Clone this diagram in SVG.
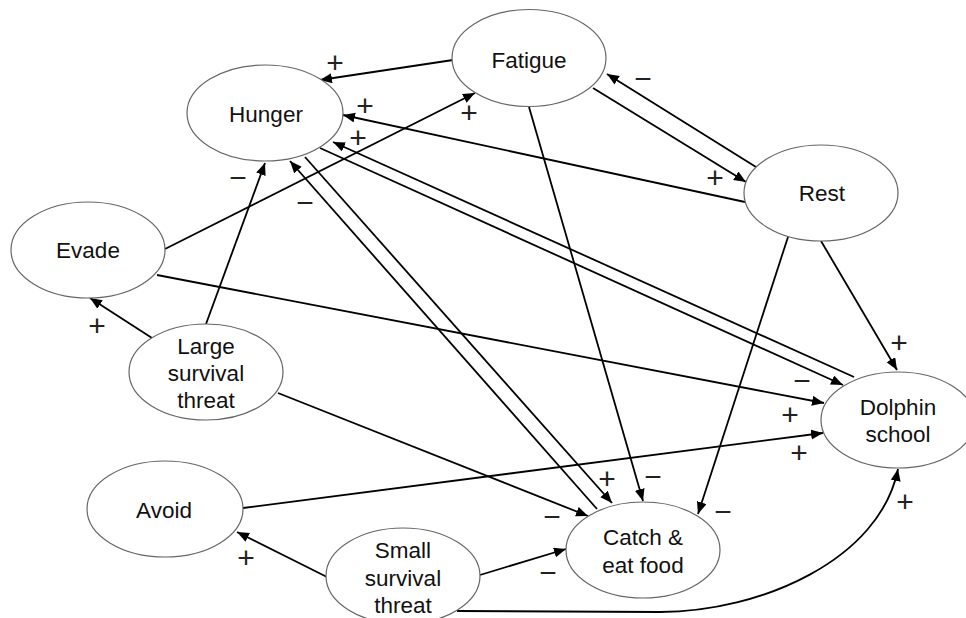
<svg xmlns="http://www.w3.org/2000/svg" width="966" height="618" viewBox="0 0 966 618">
  <style>
    .node ellipse { fill: #ffffff; stroke: #666666; stroke-width: 1.2; }
    .node text { font-family: "Liberation Sans", Arial, sans-serif; font-size: 22.5px; fill: #111111; text-anchor: middle; }
    #connectors path { fill: none; stroke: #000000; stroke-width: 1.8; }
    #connectors .arrow { marker-end: url(#head); }
    .sign { font-family: "Liberation Sans", Arial, sans-serif; font-size: 30px; fill: #222222; text-anchor: middle; }
  </style>
  <defs>
    <marker id="head" markerUnits="userSpaceOnUse" markerWidth="13" markerHeight="11" refX="12" refY="5" orient="auto">
      <path d="M0,0 L12,5 L0,10 z" fill="#000000"/>
    </marker>
  </defs>
  <rect width="966" height="618" fill="#ffffff"/>

  <g id="connectors">
    <path class="arrow" d="M453,60 L320,80"/>
    <path class="arrow" d="M165,249 L475,93"/>
    <path class="arrow" d="M745,202 L343,115"/>
    <path class="arrow" d="M854,377 L333,142"/>
    <path class="arrow" d="M320,148 L843,385"/>
    <path class="arrow" d="M593,88 L746,182"/>
    <path class="arrow" d="M756,167 L607,74"/>
    <path class="arrow" d="M529,107 L643,501"/>
    <path class="arrow" d="M788,237 L698,514"/>
    <path class="arrow" d="M821,241 L897,370"/>
    <path class="arrow" d="M157,275 L824,403"/>
    <path class="arrow" d="M243,508 L823,433"/>
    <path class="arrow" d="M152,338 L90,298"/>
    <path class="arrow" d="M206,324 L265,163"/>
    <path class="arrow" d="M278,393 L588,516"/>
    <path class="arrow" d="M597,509 L290,161"/>
    <path class="arrow" d="M305,157 L612,503"/>
    <path class="arrow" d="M327,577 L237,532"/>
    <path class="arrow" d="M480,575 L566,549"/>
    <path class="arrow" d="M457,611 L660,612 C760,612 880,560 898,469"/>
  </g>

  <g id="labels" opacity="0.999">
    <text class="sign" x="335" y="73">+</text>
    <text class="sign" x="469" y="123">+</text>
    <text class="sign" x="365" y="116">+</text>
    <text class="sign" x="358" y="148">+</text>
    <text class="sign" x="802" y="391">−</text>
    <text class="sign" x="715" y="188">+</text>
    <text class="sign" x="643" y="89">−</text>
    <text class="sign" x="653" y="487">−</text>
    <text class="sign" x="723" y="522">−</text>
    <text class="sign" x="899" y="353">+</text>
    <text class="sign" x="790" y="425">+</text>
    <text class="sign" x="799" y="463">+</text>
    <text class="sign" x="97" y="336">+</text>
    <text class="sign" x="238" y="188">−</text>
    <text class="sign" x="552" y="527">−</text>
    <text class="sign" x="305" y="213">−</text>
    <text class="sign" x="607" y="489">+</text>
    <text class="sign" x="246" y="568">+</text>
    <text class="sign" x="548" y="583">−</text>
    <text class="sign" x="905" y="512">+</text>
  </g>

  <g id="fatigue" class="node">
    <ellipse cx="529" cy="58" rx="77" ry="48.5"/>
    <text x="529" y="68">Fatigue</text>
  </g>
  <g id="hunger" class="node">
    <ellipse cx="265" cy="113" rx="78" ry="48"/>
    <text x="266" y="122">Hunger</text>
  </g>
  <g id="rest" class="node">
    <ellipse cx="821" cy="193" rx="77" ry="48"/>
    <text x="822" y="201">Rest</text>
  </g>
  <g id="evade" class="node">
    <ellipse cx="88" cy="250" rx="77" ry="48"/>
    <text x="88" y="258">Evade</text>
  </g>
  <g id="large-survival-threat" class="node">
    <ellipse cx="206" cy="372" rx="77" ry="48"/>
    <text x="206" y="354">Large</text>
    <text x="206" y="381">survival</text>
    <text x="206" y="408">threat</text>
  </g>
  <g id="avoid" class="node">
    <ellipse cx="165" cy="509" rx="78" ry="48"/>
    <text x="164" y="518">Avoid</text>
  </g>
  <g id="small-survival-threat" class="node">
    <ellipse cx="403" cy="576" rx="77" ry="48"/>
    <text x="403" y="558">Small</text>
    <text x="403" y="586">survival</text>
    <text x="403" y="613">threat</text>
  </g>
  <g id="catch-eat-food" class="node">
    <ellipse cx="643" cy="550" rx="77" ry="48"/>
    <text x="643" y="545">Catch &amp;</text>
    <text x="643" y="573">eat food</text>
  </g>
  <g id="dolphin-school" class="node">
    <ellipse cx="898" cy="420" rx="77" ry="48"/>
    <text x="898" y="415">Dolphin</text>
    <text x="898" y="442">school</text>
  </g>
</svg>
